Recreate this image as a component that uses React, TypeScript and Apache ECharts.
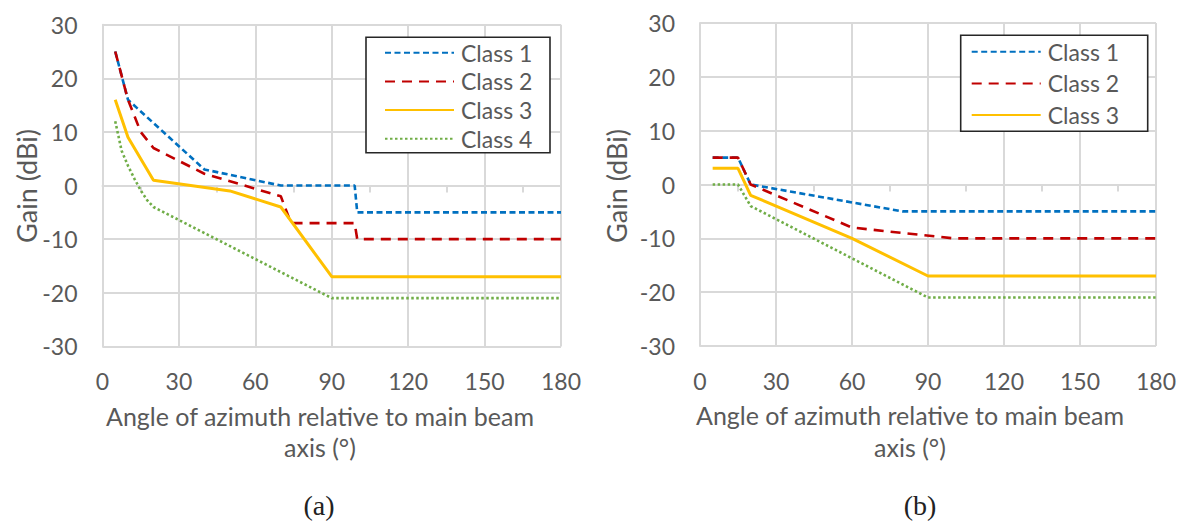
import React, { useEffect, useRef } from "react";
import * as echarts from "echarts";

// ---------- data (a) ----------
const aClass1X = [5, 10, 40, 70, 99, 100, 180];
const aClass1Y = [25, 16, 3, 0, 0, -5, -5];
const aClass2X = [5, 10, 15, 20, 40, 70, 74, 99, 100, 180];
const aClass2Y = [25, 16, 10, 7, 2.2, -2, -7, -7, -10, -10];
const aClass3X = [5, 10, 20, 50, 70, 90, 180];
const aClass3Y = [16, 9, 1, -1, -4, -17, -17];
const aClass4X = [5, 7.5, 10, 12.5, 15, 17.5, 20, 90, 180];
const aClass4Y = [12, 6.5, 3.7, 1.3, -0.9, -2.7, -4, -21, -21];

// ---------- data (b) ----------
const bClass1X = [5, 15, 20, 80, 180];
const bClass1Y = [5, 5, 0, -5, -5];
const bClass2X = [5, 15, 20, 60, 100, 180];
const bClass2Y = [5, 5, 0, -8, -10, -10];
const bClass3X = [5, 15, 20, 60, 90, 180];
const bClass3Y = [3, 3, -2, -10, -17, -17];
const bClass4X = [5, 15, 20, 90, 180];
const bClass4Y = [0, 0, -4, -21, -21];

const legendA = ["Class 1", "Class 2", "Class 3", "Class 4"];
const legendB = ["Class 1", "Class 2", "Class 3"];
const xTitle1 = "Angle of azimuth relative to main beam";
const xTitle2 = "axis (°)";
const yTitle = "Gain (dBi)";
const captions = ["(a)", "(b)"];

const FONT = "Lato";
const GREY = "#595959";
const GRID = "#d9d9d9";

const styles: any = {
  "Class 1": { color: "#0070C0", width: 2.6, type: [6, 3.5] },
  "Class 2": { color: "#C00000", width: 2.6, type: [10, 7] },
  "Class 3": { color: "#FFC000", width: 3, type: "solid" },
  "Class 4": { color: "#70AD47", width: 2.6, type: [2.5, 2.5] },
};

const zip = (xs: number[], ys: number[]) => xs.map((x, i) => [x, ys[i]]);

function mkSeries(name: string, xs: number[], ys: number[], idx: number) {
  const s = styles[name];
  return {
    type: "line",
    name,
    xAxisIndex: idx,
    yAxisIndex: idx,
    data: zip(xs, ys),
    symbol: "none",
    showSymbol: false,
    itemStyle: { color: s.color },
    lineStyle: { color: s.color, width: s.width, type: s.type, cap: "butt" },
  };
}

function mkX(idx: number) {
  return {
    type: "value",
    gridIndex: idx,
    min: 0,
    max: 180,
    interval: 30,
    axisLine: { show: true, lineStyle: { color: GRID, width: 2 } },
    axisTick: { show: true, length: 7, lineStyle: { color: GRID, width: 2 } },
    minorTick: { show: true, splitNumber: 2, length: 7, lineStyle: { color: GRID, width: 2 } },
    splitLine: { show: true, lineStyle: { color: GRID, width: 2 } },
    axisLabel: { color: GREY, fontFamily: FONT, fontSize: 23, margin: 23 },
  };
}

function mkY(idx: number) {
  return {
    type: "value",
    gridIndex: idx,
    min: -30,
    max: 30,
    interval: 10,
    axisLine: { show: true, lineStyle: { color: GRID, width: 2 } },
    axisTick: { show: false },
    splitLine: { show: true, lineStyle: { color: GRID, width: 2 } },
    axisLabel: { color: GREY, fontFamily: FONT, fontSize: 23, margin: 25 },
  };
}

function txt(text: string, x: number, y: number, extra: any = {}) {
  return {
    type: "text",
    x,
    y,
    z: 30,
    style: {
      text,
      fontFamily: FONT,
      fontSize: 25,
      fill: GREY,
      align: "center",
      verticalAlign: "middle",
      ...extra,
    },
  };
}

export default function App() {
  const ref = useRef<HTMLDivElement>(null);
  useEffect(() => {
    if (!ref.current) return;
    const chart = echarts.init(ref.current, undefined, { renderer: "svg" });
    const legendText = { color: GREY, fontFamily: FONT, fontSize: 23, lineHeight: 24, padding: [0, 0, 0, 2] };
    const legendCommon = {
      orient: "vertical",
      padding: 0,
      itemWidth: 69,
      itemHeight: 14,
      z: 20,
      selectedMode: false,
      itemStyle: { opacity: 0, borderWidth: 0 },
      textStyle: legendText,
    };
    chart.setOption({
      animation: false,
      backgroundColor: "#ffffff",
      grid: [
        { left: 102.5, top: 24.7, width: 458.5, height: 321.7 },
        { left: 700, top: 23, width: 456, height: 323 },
      ],
      xAxis: [mkX(0), mkX(1)],
      yAxis: [mkY(0), mkY(1)],
      legend: [
        { ...legendCommon, data: legendA, left: 384, top: 40.7, itemGap: 4.7 },
        { ...legendCommon, data: legendB, left: 970.7, top: 39.7, itemGap: 7.7 },
      ],
      graphic: {
        elements: [
          {
            type: "rect",
            z: 10,
            shape: { x: 366, y: 37.3, width: 184, height: 115.4 },
            style: { fill: "#ffffff", stroke: "#262626", lineWidth: 1.6 },
          },
          {
            type: "rect",
            z: 10,
            shape: { x: 960.7, y: 35.3, width: 187, height: 96 },
            style: { fill: "#ffffff", stroke: "#262626", lineWidth: 1.6 },
          },
          { ...txt(yTitle, 26, 186, { fontSize: 27 }), rotation: Math.PI / 2 },
          { ...txt(yTitle, 616, 186, { fontSize: 27 }), rotation: Math.PI / 2 },
          txt(xTitle1, 320, 416),
          txt(xTitle2, 320, 447),
          txt(xTitle1, 910, 415),
          txt(xTitle2, 910, 447),
          txt(captions[0], 319, 505, { fontFamily: "Liberation Serif", fontSize: 28, fill: "#222222" }),
          txt(captions[1], 920, 505, { fontFamily: "Liberation Serif", fontSize: 28, fill: "#222222" }),
        ],
      },
      series: [
        mkSeries("Class 1", aClass1X, aClass1Y, 0),
        mkSeries("Class 2", aClass2X, aClass2Y, 0),
        mkSeries("Class 3", aClass3X, aClass3Y, 0),
        mkSeries("Class 4", aClass4X, aClass4Y, 0),
        mkSeries("Class 1", bClass1X, bClass1Y, 1),
        mkSeries("Class 2", bClass2X, bClass2Y, 1),
        mkSeries("Class 3", bClass3X, bClass3Y, 1),
        mkSeries("Class 4", bClass4X, bClass4Y, 1),
      ],
    });
    return () => chart.dispose();
  }, []);
  return (
    <div
      ref={ref}
      style={{ position: "absolute", left: 0, top: 0, width: 1179, height: 524, background: "#fff" }}
    />
  );
}
